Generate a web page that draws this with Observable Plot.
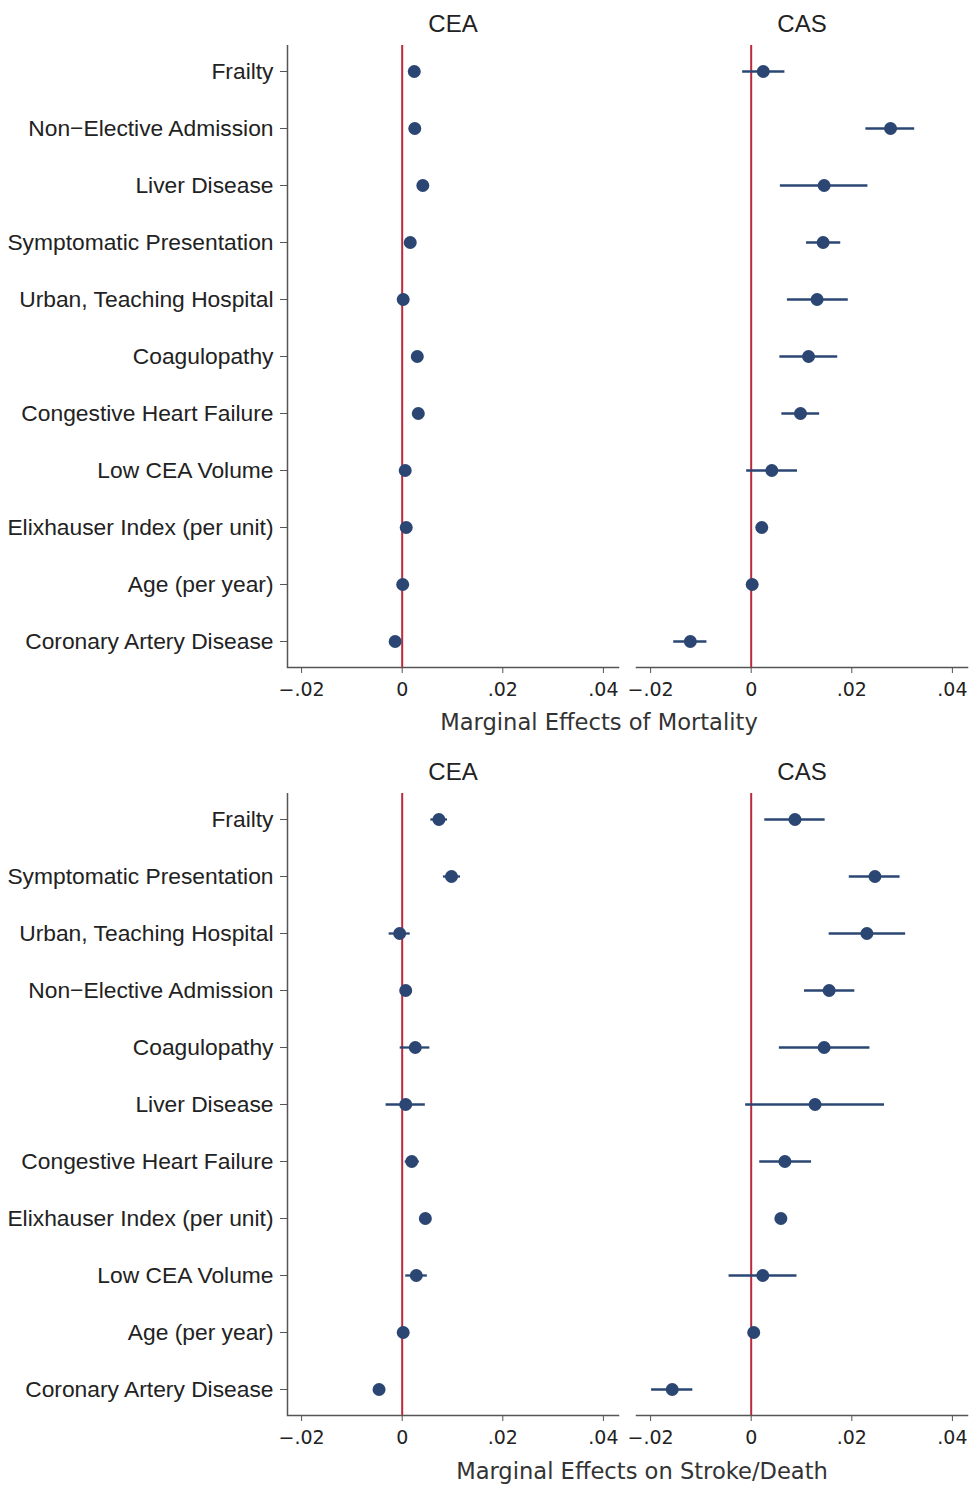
<!DOCTYPE html>
<html><head><meta charset="utf-8">
<script src="https://cdn.jsdelivr.net/npm/d3@7"></script>
<script src="https://cdn.jsdelivr.net/npm/@observablehq/plot@0.6"></script>
<style>
body{margin:0;background:#fff;}
#wrap{position:relative;width:970px;height:1485px;background:#fff;}
.panel{position:relative;width:970px;}
.xtitle{position:absolute;font-family:"DejaVu Sans",Verdana,sans-serif;font-size:22.6px;color:#333;transform:translate(-50%,-50%);white-space:nowrap;}
</style></head>
<body><div id="wrap"></div>
<script>
// ---------- data ----------
const procedures = ["CEA", "CAS"];
const xTicks = [-0.02, 0, 0.02, 0.04];

// Panel 1: Marginal effects of mortality
const mortLabels = ["Frailty", "Non\u2212Elective Admission", "Liver Disease", "Symptomatic Presentation",
  "Urban, Teaching Hospital", "Coagulopathy", "Congestive Heart Failure", "Low CEA Volume",
  "Elixhauser Index (per unit)", "Age (per year)", "Coronary Artery Disease"];
const mortCEA_est = [0.0024, 0.0025, 0.0041, 0.0016, 0.0002, 0.0030, 0.0032, 0.0006, 0.0008, 0.0001, -0.0014];
const mortCEA_lo  = [0.0020, 0.0021, 0.0034, 0.0012, -0.0002, 0.0026, 0.0028, 0.0002, 0.0006, 0.0000, -0.0018];
const mortCEA_hi  = [0.0028, 0.0029, 0.0048, 0.0020, 0.0006, 0.0034, 0.0036, 0.0010, 0.0010, 0.0002, -0.0010];
const mortCAS_est = [0.0024, 0.0277, 0.0145, 0.0143, 0.0131, 0.0114, 0.0098, 0.0041, 0.0021, 0.0002, -0.0121];
const mortCAS_lo  = [-0.0017, 0.0228, 0.0058, 0.0110, 0.0072, 0.0057, 0.0061, -0.0009, 0.0018, 0.0000, -0.0154];
const mortCAS_hi  = [0.0067, 0.0325, 0.0232, 0.0178, 0.0193, 0.0172, 0.0136, 0.0092, 0.0024, 0.0004, -0.0088];

// Panel 2: Marginal effects on stroke/death
const strokeLabels = ["Frailty", "Symptomatic Presentation", "Urban, Teaching Hospital", "Non\u2212Elective Admission",
  "Coagulopathy", "Liver Disease", "Congestive Heart Failure", "Elixhauser Index (per unit)",
  "Low CEA Volume", "Age (per year)", "Coronary Artery Disease"];
const strokeCEA_est = [0.0073, 0.0098, -0.0005, 0.0007, 0.0026, 0.0007, 0.0019, 0.0046, 0.0028, 0.0002, -0.0046];
const strokeCEA_lo  = [0.0057, 0.0082, -0.0026, -0.0003, -0.0004, -0.0032, 0.0006, 0.0043, 0.0007, 0.0000, -0.0049];
const strokeCEA_hi  = [0.0090, 0.0116, 0.0016, 0.0017, 0.0055, 0.0046, 0.0034, 0.0049, 0.0050, 0.0004, -0.0043];
const strokeCAS_est = [0.0087, 0.0246, 0.0230, 0.0155, 0.0145, 0.0127, 0.0067, 0.0059, 0.0023, 0.0005, -0.0157];
const strokeCAS_lo  = [0.0027, 0.0195, 0.0155, 0.0106, 0.0056, -0.0011, 0.0017, 0.0056, -0.0044, 0.0003, -0.0198];
const strokeCAS_hi  = [0.0147, 0.0296, 0.0307, 0.0206, 0.0236, 0.0265, 0.0120, 0.0062, 0.0091, 0.0007, -0.0116];

const xDomain = [-0.0228, 0.043];
const navy = "#2b4673";
const red = "#bb2a3a";
const axisGray = "#555";

function buildRows(labels, ceaE, ceaL, ceaH, casE, casL, casH) {
  const rows = [];
  labels.forEach((lab, i) => {
    rows.push({proc: "CEA", label: lab, est: ceaE[i], lo: ceaL[i], hi: ceaH[i]});
    rows.push({proc: "CAS", label: lab, est: casE[i], lo: casL[i], hi: casH[i]});
  });
  return rows;
}

function fmt(d) {
  if (d === 0) return "0";
  const s = Math.abs(d).toFixed(2).replace(/^0/, "");
  return (d < 0 ? "\u2212" : "") + s;
}

function panel(labels, rows, height, marginBottom) {
  return Plot.plot({
    width: 970,
    height,
    marginTop: 45,
    marginBottom,
    marginLeft: 286,
    marginRight: 2,
    style: {background: "white", color: "#222", overflow: "visible"},
    fx: {domain: procedures, paddingInner: 0.0514, paddingOuter: 0},
    x: {domain: xDomain},
    y: {type: "point", domain: labels, padding: 0.445},
    marks: [
      Plot.ruleX(rows.filter(d => d.proc === "CEA").slice(0, 1), {x: () => xDomain[0], fx: "proc", stroke: axisGray, strokeWidth: 1.5}),
      Plot.frame({anchor: "bottom", stroke: axisGray, strokeWidth: 1.5}),
      Plot.ruleX([0], {stroke: red, strokeWidth: 2}),
      Plot.ruleY(rows, {y: "label", x1: "lo", x2: "hi", fx: "proc", stroke: navy, strokeWidth: 2.3}),
      Plot.dot(rows, {x: "est", y: "label", fx: "proc", r: 6.5, fill: navy, stroke: "none"}),
      Plot.axisY({anchor: "left", tickSize: 7, tickPadding: 7, fontSize: 22.8, fontFamily: "Liberation Sans", label: null, stroke: axisGray}),
      Plot.axisX({anchor: "bottom", ticks: xTicks, tickFormat: fmt, tickSize: 6, tickPadding: 9, fontSize: 19, fontFamily: "DejaVu Sans", label: null, stroke: axisGray}),
      Plot.axisFx({anchor: "top", tickSize: 0, tickPadding: 14, fontSize: 24, fontFamily: "Liberation Sans", label: null})
    ]
  });
}

const wrap = document.getElementById("wrap");

const p1 = document.createElement("div"); p1.className = "panel";
p1.appendChild(panel(mortLabels, buildRows(mortLabels, mortCEA_est, mortCEA_lo, mortCEA_hi, mortCAS_est, mortCAS_lo, mortCAS_hi), 748, 81));
const t1 = document.createElement("div"); t1.className = "xtitle"; t1.textContent = "Marginal Effects of Mortality";
t1.style.left = "599px"; t1.style.top = "722px";
p1.appendChild(t1);
wrap.appendChild(p1);

const p2 = document.createElement("div"); p2.className = "panel";
p2.appendChild(panel(strokeLabels, buildRows(strokeLabels, strokeCEA_est, strokeCEA_lo, strokeCEA_hi, strokeCAS_est, strokeCAS_lo, strokeCAS_hi), 737, 70));
const t2 = document.createElement("div"); t2.className = "xtitle"; t2.textContent = "Marginal Effects on Stroke/Death";
t2.style.left = "642px"; t2.style.top = "723px";
p2.appendChild(t2);
wrap.appendChild(p2);
</script>
</body></html>
